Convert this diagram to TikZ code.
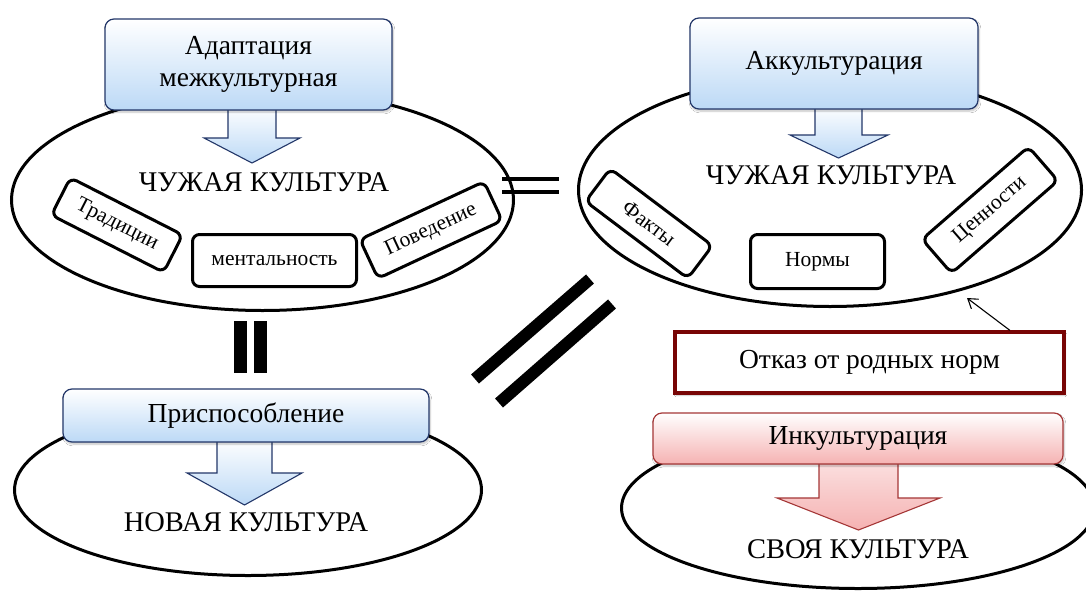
\documentclass[tikz,border=0pt]{standalone}
\usepackage{fontspec}
\setmainfont{Liberation Serif}
\usetikzlibrary{shapes.geometric,shadows.blur,arrows.meta}
\definecolor{fillblue}{RGB}{188,217,246}
\definecolor{bordblue}{RGB}{35,55,105}
\definecolor{fillpink}{RGB}{245,178,178}
\definecolor{bordpink}{RGB}{165,55,55}
\definecolor{bordred}{RGB}{120,5,5}
\newcommand\FsBig{\fontsize{28.5}{32}\selectfont}
\newcommand\FsMid{\fontsize{27.5}{32}\selectfont}
\newcommand\FsRef{\fontsize{27.5}{32}\selectfont}
\newcommand\FsSmall{\fontsize{21.5}{24}\selectfont}
\tikzset{
  culture/.style={draw, ellipse, line width=3pt, inner sep=0pt},
  topbox/.style={draw=bordblue, line width=1.2pt, rounded corners=9pt, top color=white, bottom color=fillblue,
    blur shadow={shadow xshift=1pt,shadow yshift=-2pt,shadow blur steps=6,shadow opacity=25},
    align=center, inner sep=0pt, font=\FsMid},
  pinkbox/.style={topbox, draw=bordpink, bottom color=fillpink},
  refusebox/.style={draw=bordred, line width=3.5pt, fill=white, inner sep=0pt, font=\FsRef,
    blur shadow={shadow xshift=1pt,shadow yshift=-2pt,shadow blur steps=6,shadow opacity=25}},
  itembox/.style={draw, line width=3pt, rounded corners=7pt, inner sep=0pt, font=\FsSmall},
  bluearrow/.style={draw=bordblue, line width=1.1pt, top color=white, bottom color=fillblue, line join=miter},
  pinkarrow/.style={draw=bordpink, line width=1.1pt, top color=white!60!fillpink, bottom color=fillpink, line join=miter},
  culttext/.style={anchor=base, font=\FsBig, inner sep=0pt},
  eqbar/.style={line width=4pt},
  bigbar/.style={line width=13pt},
  diagbar/.style={line width=12pt}
}
\begin{document}
\begin{tikzpicture}[x=1pt,y=-1pt]
\useasboundingbox (0,0) rectangle (1086,594);
\clip (0,0) rectangle (1086,594);
\fill[white] (0,0) rectangle (1086,594);

% ellipses
\node[culture, minimum width=502pt, minimum height=221pt] (e1) at (262.5,200) {};
\node[culture, minimum width=503pt, minimum height=233pt] (e2) at (830,190) {};
\node[culture, minimum width=467pt, minimum height=171pt] (e3) at (248,490) {};
\node[culture, minimum width=473pt, minimum height=161pt] (e4) at (858,508) {};

% block arrows
\draw[bluearrow] (228,105) -- (228,138) -- (204,138) -- (252,163) -- (300,138) -- (276,138) -- (276,105) -- cycle;
\draw[bluearrow] (815,105) -- (815,135) -- (790,135) -- (838.5,158) -- (888,135) -- (862,135) -- (862,105) -- cycle;
\draw[bluearrow] (217,438) -- (217,473) -- (187,473) -- (244.5,505) -- (302,473) -- (272,473) -- (272,438) -- cycle;
\draw[pinkarrow] (819,460) -- (819,498) -- (777,498) -- (858.5,530) -- (940,498) -- (898,498) -- (898,460) -- cycle;

% title boxes
\node[topbox, minimum width=287pt, minimum height=91pt] (adapt) at (248.5,64.5) {Адаптация\\межкультурная};
\node[topbox, minimum width=288pt, minimum height=91pt] (akk) at (834,63.5) {Аккультурация};
\node[topbox, minimum width=366pt, minimum height=53pt] (prisp) at (246,415.5) {Приспособление};
\node[pinkbox, minimum width=410pt, minimum height=51pt] (inkult) at (858,438.5) {Инкультурация};
\node[refusebox, minimum width=389pt, minimum height=61pt] (otkaz) at (869.5,362.5) {Отказ от родных норм};

% culture labels
\node[culttext] (c1) at (264,191) {ЧУЖАЯ КУЛЬТУРА};
\node[culttext] (c2) at (831,184) {ЧУЖАЯ КУЛЬТУРА};
\node[culttext] (c3) at (246,531) {НОВАЯ КУЛЬТУРА};
\node[culttext] (c4) at (858,558) {СВОЯ КУЛЬТУРА};

% item boxes
\node[itembox, minimum width=126pt, minimum height=42pt, rotate=-27] (trad) at (117,225) {Традиции};
\node[itembox, minimum width=164pt, minimum height=52pt] (ment) at (274.5,260.5) {ментальность};
\node[itembox, minimum width=137pt, minimum height=43pt, rotate=25] (pov) at (431,230) {Поведение};
\node[itembox, minimum width=128pt, minimum height=41pt, rotate=-37] (fakty) at (649,223.5) {Факты};
\node[itembox, minimum width=134pt, minimum height=54pt] (normy) at (817.5,261.5) {Нормы};
\node[itembox, minimum width=141pt, minimum height=45pt, rotate=41] (cenn) at (990,210) {Ценности};

% equality signs
\draw[eqbar] (502,179) -- (559,179);
\draw[eqbar] (502,192) -- (559,192);
\draw[bigbar] (240.5,321) -- (240.5,373);
\draw[bigbar] (260.5,321) -- (260.5,373);
\draw[diagbar] (475,379) -- (590,279);
\draw[diagbar] (499,403) -- (612,304);

% small arrow
\coordinate (tipA) at (967,298);
\draw[line width=1.1pt, -{Straight Barb[length=9pt,width=12pt]}] ([xshift=-56pt]otkaz.north east) -- (tipA);
\end{tikzpicture}
\end{document}
